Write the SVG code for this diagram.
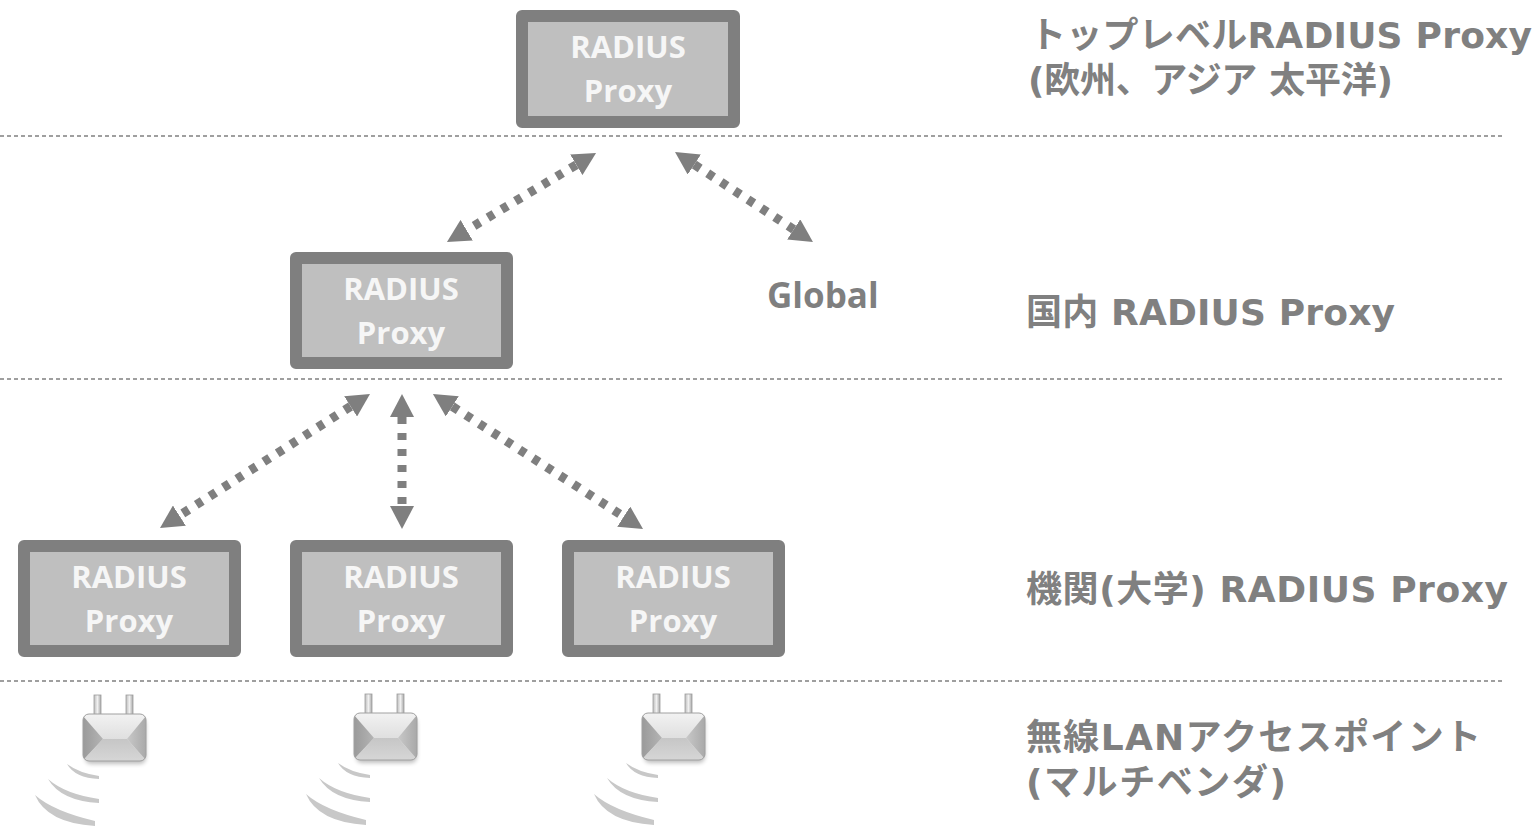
<svg xmlns="http://www.w3.org/2000/svg" width="1539" height="829" viewBox="0 0 1539 829">
<style>
.sep{stroke:#808080;stroke-width:1.3;stroke-dasharray:4 3;fill:none}
.box{fill:#bfbfbf;stroke:#7f7f7f;stroke-width:12;stroke-linejoin:round}
.bt{font-family:"Open Sans","Liberation Sans",sans-serif;font-weight:bold;font-size:31px;fill:#f6f6f6;text-anchor:middle}
.lbl{font-family:"DejaVu Sans","Noto Sans CJK JP",sans-serif;font-weight:bold;font-size:36px;fill:#808080}
.glob{font-family:"Open Sans","Liberation Sans",sans-serif;font-weight:bold;font-size:35px;fill:#7f7f7f}
.arr{stroke:#7f7f7f;stroke-width:9;stroke-dasharray:7 9;fill:none;marker-start:url(#ah);marker-end:url(#ah)}
.wave{fill:#c8c8c8}
</style>
<defs>
<marker id="ah" viewBox="0 0 23 24" refX="0" refY="12" markerWidth="23" markerHeight="24" markerUnits="userSpaceOnUse" orient="auto-start-reverse">
<path d="M0,0 L23,12 L0,24 z" fill="#7f7f7f"/>
</marker>
<linearGradient id="prong" x1="0" y1="0" x2="1" y2="0">
<stop offset="0" stop-color="#bdbdbd"/><stop offset="0.5" stop-color="#f0f0f0"/><stop offset="1" stop-color="#a8a8a8"/>
</linearGradient>
<linearGradient id="topf" x1="0" y1="0" x2="0" y2="1">
<stop offset="0" stop-color="#f2f2f2"/><stop offset="1" stop-color="#cfcfcf"/>
</linearGradient>
<linearGradient id="leftf" x1="0" y1="0" x2="1" y2="0">
<stop offset="0" stop-color="#9a9a9a"/><stop offset="1" stop-color="#b4b4b4"/>
</linearGradient>
<linearGradient id="rightf" x1="1" y1="0" x2="0" y2="0">
<stop offset="0" stop-color="#a9a9a9"/><stop offset="1" stop-color="#c8c8c8"/>
</linearGradient>
<linearGradient id="botf" x1="0" y1="0" x2="0" y2="1">
<stop offset="0" stop-color="#c6c6c6"/><stop offset="1" stop-color="#d6d6d6"/>
</linearGradient>
<clipPath id="bodyclip"><rect x="0" y="0" width="63" height="47" rx="6"/></clipPath>
<filter id="sh" x="-20%" y="-20%" width="140%" height="160%"><feGaussianBlur stdDeviation="2"/></filter>
<g id="ap">
<rect x="11" y="-19" width="7" height="21" fill="url(#prong)" stroke="#9c9c9c" stroke-width="0.8"/>
<rect x="43" y="-19" width="7" height="21" fill="url(#prong)" stroke="#9c9c9c" stroke-width="0.8"/>
<rect x="2" y="4" width="61" height="46" rx="6" fill="#000" opacity="0.25" filter="url(#sh)"/>
<g clip-path="url(#bodyclip)">
<rect x="0" y="0" width="63" height="47" fill="url(#topf)"/>
<path d="M0,2 L20,25 L0,46 z" fill="url(#leftf)"/>
<path d="M63,2 L44,25 L63,46 z" fill="url(#rightf)"/>
<path d="M20,25 L44,25 L63,47 L0,47 z" fill="url(#botf)"/>
</g>
<rect x="0" y="0" width="63" height="47" rx="6" fill="none" stroke="#a0a0a0" stroke-width="1"/>
<path class="wave" d="M-16,50 Q-8,64 16,65 L16,62 Q-4,59 -16,50 z"/>
<path class="wave" d="M-35,65 Q-22,87 16,89 L16,85 Q-18,80 -35,65 z"/>
<path class="wave" d="M-48,81 Q-36,109 12,112 L12,107 Q-30,97 -48,81 z"/>
</g>
</defs>
<rect x="0" y="0" width="1539" height="829" fill="#ffffff"/>

<g id="separators">
<line class="sep" x1="0" y1="136" x2="1505" y2="136"/>
<line class="sep" x1="0" y1="379" x2="1505" y2="379"/>
<line class="sep" x1="0" y1="681" x2="1505" y2="681"/>
</g>

<g id="connectors">
<line class="arr" x1="576.3" y1="164.8" x2="466.7" y2="230.2"/>
<line class="arr" x1="694.3" y1="164.6" x2="793.7" y2="229.4"/>
<line class="arr" x1="350.6" y1="406.4" x2="179.4" y2="515.6"/>
<line class="arr" x1="402" y1="417" x2="402" y2="506"/>
<line class="arr" x1="452.3" y1="406.4" x2="623.7" y2="516.6"/>
</g>

<g id="top-proxy">
<rect class="box" x="522" y="16" width="212" height="106"/>
<text class="bt" x="628" y="58">RADIUS</text>
<text class="bt" x="628" y="102">Proxy</text>
</g>

<g id="national-proxy">
<rect class="box" x="296" y="258" width="211" height="105"/>
<text class="bt" x="401" y="300">RADIUS</text>
<text class="bt" x="401" y="344">Proxy</text>
</g>

<g id="global">
<text class="glob" x="767" y="308">Global</text>
</g>

<g id="inst-proxy-1">
<rect class="box" x="24" y="546" width="211" height="105"/>
<text class="bt" x="129" y="588">RADIUS</text>
<text class="bt" x="129" y="632">Proxy</text>
</g>
<g id="inst-proxy-2">
<rect class="box" x="296" y="546" width="211" height="105"/>
<text class="bt" x="401" y="588">RADIUS</text>
<text class="bt" x="401" y="632">Proxy</text>
</g>
<g id="inst-proxy-3">
<rect class="box" x="568" y="546" width="211" height="105"/>
<text class="bt" x="673" y="588">RADIUS</text>
<text class="bt" x="673" y="632">Proxy</text>
</g>

<g id="ap-1"><use href="#ap" x="83" y="714"/></g>
<g id="ap-2"><use href="#ap" x="354" y="713"/></g>
<g id="ap-3"><use href="#ap" x="642" y="713"/></g>

<g id="labels">
<text class="lbl" x="1030" y="48" textLength="502" lengthAdjust="spacing">トップレベルRADIUS Proxy</text>
<text class="lbl" x="1028" y="93" textLength="365" lengthAdjust="spacing">(欧州、アジア 太平洋)</text>
<text class="lbl" x="1026" y="325" textLength="369" lengthAdjust="spacing">国内 RADIUS Proxy</text>
<text class="lbl" x="1026" y="602" textLength="482" lengthAdjust="spacing">機関(大学) RADIUS Proxy</text>
<text class="lbl" x="1026" y="750" textLength="455" lengthAdjust="spacing">無線LANアクセスポイント</text>
<text class="lbl" x="1026" y="795" textLength="260" lengthAdjust="spacing">(マルチベンダ)</text>
</g>
</svg>
